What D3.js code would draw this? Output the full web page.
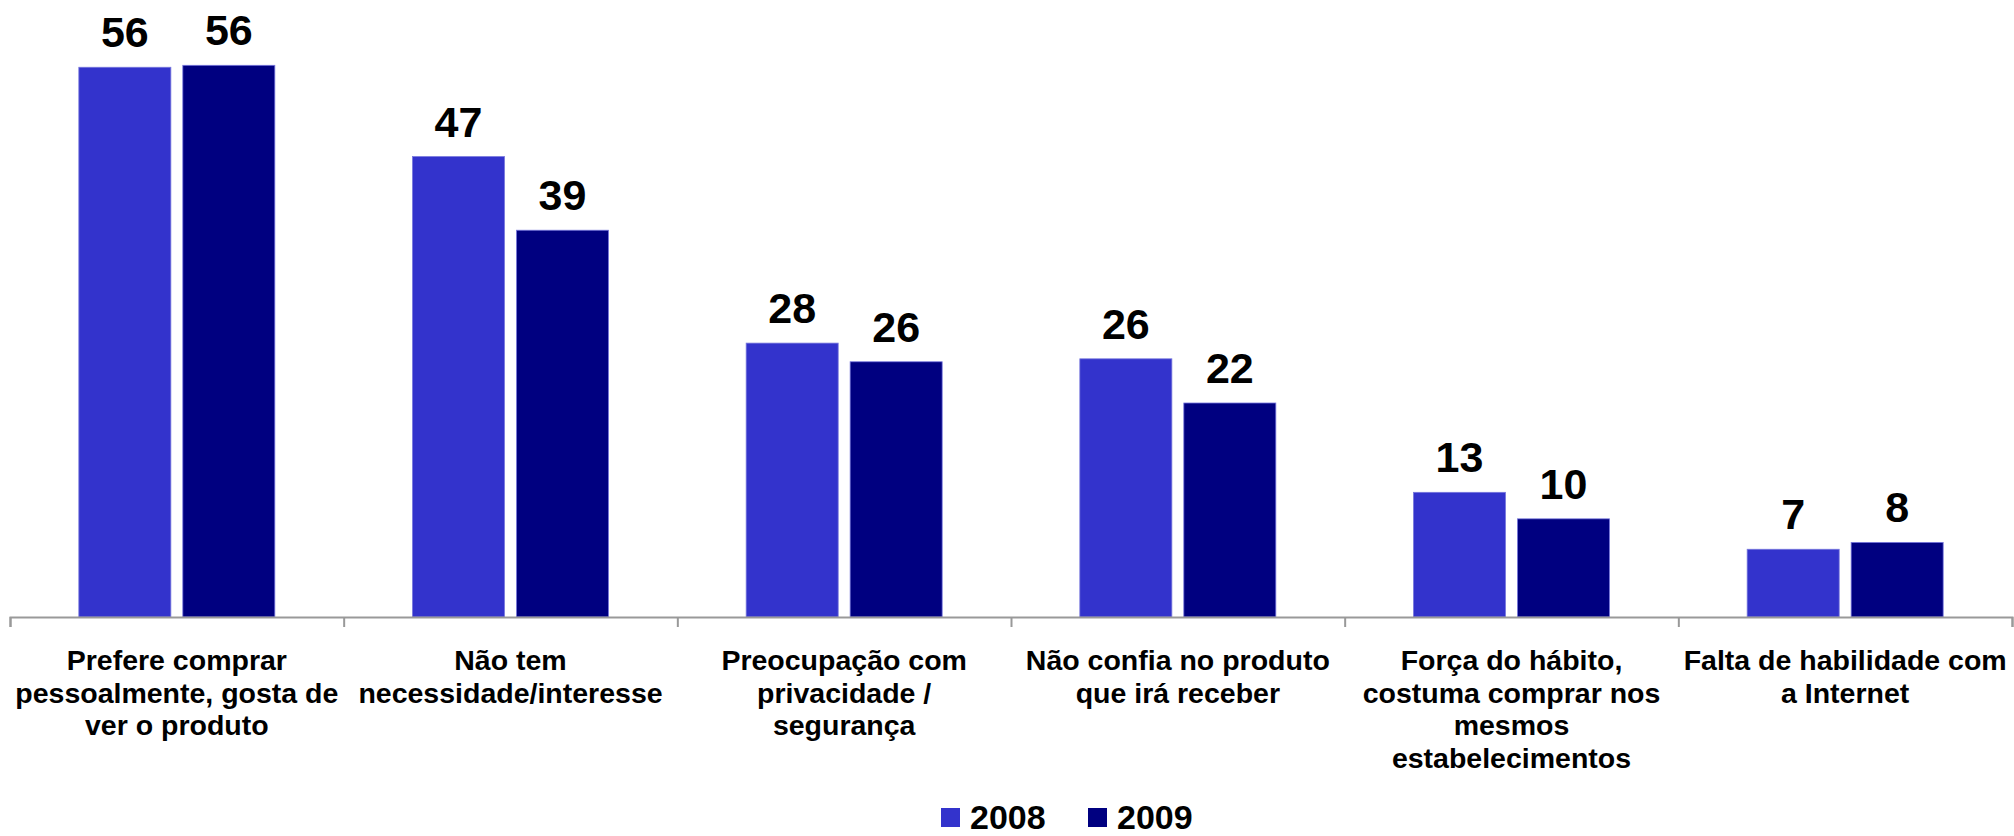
<!DOCTYPE html>
<meta charset='utf-8'>
<head>
  <title>Motivos para não comprar pela Internet</title>
  <style>
    body { margin: 0; background: #fff; }
    svg { display: block; font-family: 'Liberation Sans', Arial, sans-serif; font-weight: bold; }
  </style>
</head>
<body>
  <div id='chart'></div>
</body>
<script src='https://cdn.jsdelivr.net/npm/d3@7/dist/d3.min.js'></script>
<script>

var categories = [
  ['Prefere comprar', 'pessoalmente, gosta de', 'ver o produto'],
  ['Não tem', 'necessidade/interesse'],
  ['Preocupação com', 'privacidade /', 'segurança'],
  ['Não confia no produto', 'que irá receber'],
  ['Força do hábito,', 'costuma comprar nos', 'mesmos', 'estabelecimentos'],
  ['Falta de habilidade com', 'a Internet']
];
var years = ['2008', '2009'];
var values2008 = [56.0, 46.9, 27.9, 26.3, 12.7, 6.9];
var values2009 = [56.2, 39.4, 26.0, 21.8, 10.0, 7.6];
var colors = ['#3333cc', '#000080'];

var width = 2014,
    height = 836,
    axisY = 617,
    left = 10,
    right = 2012;

var svg = d3.select('#chart').append('svg')
    .attr('width', width)
    .attr('height', height);

var x0 = d3.scaleBand()
    .domain(d3.range(categories.length))
    .range([left, right])
    .padding(0);

var bw = x0.bandwidth();

var x1 = d3.scaleBand()
    .domain(years)
    .range([bw / 2 - 98, bw / 2 + 98])
    .paddingInner(0.115)
    .paddingOuter(0);

var y = d3.scaleLinear()
    .domain([0, 60])
    .range([axisY, 28]);

var series = years.map(function(yr, i) {
  var vals = i === 0 ? values2008 : values2009;
  return vals.map(function(v, j) { return {year: yr, cat: j, value: v, color: colors[i]}; });
});

var groups = svg.selectAll('g.series')
    .data(series)
  .enter().append('g')
    .attr('class', 'series');

groups.selectAll('rect')
    .data(function(d) { return d; })
  .enter().append('rect')
    .attr('x', function(d) { return x0(d.cat) + x1(d.year); })
    .attr('y', function(d) { return y(d.value); })
    .attr('width', x1.bandwidth())
    .attr('height', function(d) { return axisY - y(d.value); })
    .attr('fill', function(d) { return d.color; })
    .attr('stroke', '#7777dd')
    .attr('stroke-width', 0.8);

groups.selectAll('text')
    .data(function(d) { return d; })
  .enter().append('text')
    .attr('x', function(d) { return x0(d.cat) + x1(d.year) + x1.bandwidth() / 2; })
    .attr('y', function(d) { return y(d.value) - 20; })
    .attr('text-anchor', 'middle')
    .style('font-size', '43px')
    .attr('fill', '#000')
    .text(function(d) { return d3.format('.0f')(d.value); });

// axis with ticks at the category boundaries
var xb = d3.scaleLinear().domain([0, categories.length]).range([left, right]);
var axis = svg.append('g')
    .attr('transform', 'translate(0,' + axisY + ')')
    .call(d3.axisBottom(xb).ticks(categories.length).tickSize(10).tickSizeOuter(10).tickFormat(''));
axis.selectAll('path, line')
    .attr('stroke', '#999')
    .attr('stroke-width', 2);

var labels = svg.selectAll('text.cat')
    .data(categories)
  .enter().append('text')
    .attr('class', 'cat')
    .attr('text-anchor', 'middle')
    .style('font-size', '28.5px')
    .attr('fill', '#000');

labels.selectAll('tspan')
    .data(function(d, i) { return d.map(function(s) { return {s: s, i: i}; }); })
  .enter().append('tspan')
    .attr('x', function(d) { return x0(d.i) + bw / 2; })
    .attr('y', function(d, k) { return 670 + k * 32.5; })
    .text(function(d) { return d.s; });

// legend
var legendX = [941, 1088];
var legend = svg.selectAll('g.legend')
    .data(years)
  .enter().append('g')
    .attr('class', 'legend')
    .attr('transform', function(d, i) { return 'translate(' + legendX[i] + ',808)'; });

legend.append('rect')
    .attr('width', 19)
    .attr('height', 19)
    .attr('fill', function(d, i) { return colors[i]; });

legend.append('text')
    .attr('x', 29)
    .attr('y', 21)
    .style('font-size', '34px')
    .attr('fill', '#000')
    .text(function(d) { return d; });

</script>
